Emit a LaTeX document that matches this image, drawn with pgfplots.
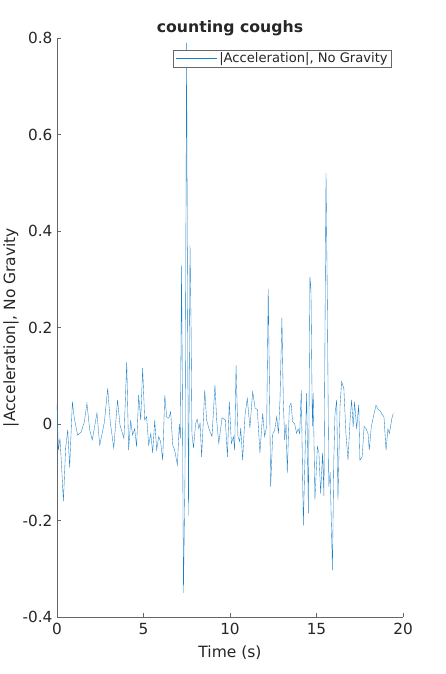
\documentclass[border=0pt]{standalone}
\usepackage{fontspec}
\setmainfont{DejaVu Sans}
\usepackage{pgfplots}
\pgfplotsset{compat=1.18}
\definecolor{mblue}{rgb}{0.1,0.5,0.78}
\definecolor{axgray}{rgb}{0.4,0.4,0.4}
\definecolor{txt}{rgb}{0.15,0.15,0.15}
\begin{document}
\begin{tikzpicture}
\path[use as bounding box] (-57pt,-57pt) rectangle (389pt,617pt);
\begin{axis}[
  at={(0,0)}, anchor=south west,
  width=346pt, height=579pt, scale only axis,
  xmin=0, xmax=20, ymin=-0.4, ymax=0.8,
  axis x line*=bottom, axis y line*=left,
  axis line style={-, axgray, line width=0.6pt},
  tick style={axgray, line width=0.6pt},
  major tick length=4pt,
  tick align=inside,
  xtick={0,5,10,15,20},
  ytick={-0.4,-0.2,0,0.2,0.4,0.6,0.8},
  yticklabels={-0.4,-0.2,0,0.2,0.4,0.6,0.8},
  xticklabels={0,5,10,15,20},
  ticklabel style={font=\fontsize{15.3}{17}\selectfont, text=txt},
  yticklabel style={xshift=-1pt},
  xticklabel style={yshift=-3pt},
  xlabel={Time (s)},
  ylabel={|Acceleration|, No Gravity},
  label style={font=\fontsize{15.5}{17}\selectfont, text=txt},
  xlabel style={at={(axis description cs:0.5,0)}, anchor=center, yshift=-36pt},
  ylabel style={at={(axis description cs:-0.133,0.5)}, anchor=center},
  title={counting coughs},
  title style={font=\bfseries\fontsize{15.7}{17}\selectfont, text=txt, at={(axis description cs:0.5,1)}, anchor=center, yshift=4pt},
  legend style={at={(axis description cs:0.968,0.979)}, anchor=north east, draw=axgray, line width=0.5pt, font=\fontsize{13.1}{14}\selectfont, text=txt, inner xsep=2pt, inner ysep=0.5pt},
  legend cell align=left,
  legend image code/.code={\draw[#1] (0cm,0cm) -- (1.45cm,0cm);},
]
\addplot[mblue, line width=0.35pt] coordinates {
(0,0.04) (0.08,-0.054) (0.17,-0.03) (0.27,-0.09) (0.37,-0.16) (0.5,-0.05) (0.62,-0.012) (0.73,-0.09)
(0.89,0.046) (1.0,0.012) (1.19,-0.023) (1.39,-0.017) (1.58,0.004) (1.73,0.043) (1.89,-0.012) (2.04,-0.033)
(2.31,0.023) (2.47,-0.044) (2.74,0.004) (2.93,0.074) (3.08,0.004) (3.28,-0.05) (3.5,0.05) (3.64,-0.002)
(3.87,-0.03) (4.03,0.129) (4.14,-0.054) (4.26,0.008) (4.37,-0.023) (4.49,-0.01) (4.6,-0.047) (4.72,0.06)
(4.84,0.008) (4.95,0.116) (5.07,0.008) (5.18,0.015) (5.3,-0.044) (5.42,-0.02) (5.53,-0.06) (5.65,0.008)
(5.76,-0.054) (5.88,-0.026) (5.99,-0.037) (6.11,-0.075) (6.23,0.06) (6.34,0.015) (6.46,0.012) (6.57,0.025)
(6.69,-0.044) (6.8,-0.054) (6.96,-0.085) (7.07,0.0) (7.13,-0.03) (7.2,0.33) (7.25,0.05) (7.31,-0.35)
(7.4,-0.1) (7.49,0.79) (7.54,0.3) (7.6,-0.19) (7.69,0.37) (7.75,0.2) (7.8,-0.02) (7.89,-0.05)
(8.01,0.0) (8.1,0.01) (8.2,-0.01) (8.27,0.002) (8.36,-0.068) (8.54,0.07) (8.65,0.008) (8.8,-0.012)
(8.96,-0.026) (9.13,0.081) (9.23,0.008) (9.35,-0.04) (9.54,0.013) (9.73,0.008) (9.85,-0.068) (9.96,0.046)
(10.08,-0.04) (10.2,-0.026) (10.27,-0.054) (10.35,0.122) (10.46,-0.026) (10.56,-0.036) (10.62,-0.008) (10.73,-0.075)
(10.87,0.019) (11.0,0.053) (11.15,-0.008) (11.31,0.067) (11.45,0.033) (11.58,0.03) (11.73,-0.06) (11.89,0.022)
(12.0,-0.026) (12.12,-0.005) (12.21,0.28) (12.3,0.022) (12.35,-0.13) (12.47,-0.02) (12.58,-0.013) (12.7,0.015)
(12.8,-0.02) (12.89,0.05) (13.0,0.22) (13.08,0.05) (13.16,-0.033) (13.24,0.0) (13.31,-0.102) (13.43,0.036)
(13.53,0.043) (13.62,0.005) (13.74,0.0) (13.85,-0.019) (13.94,-0.01) (14.03,-0.02) (14.12,0.07) (14.24,-0.21)
(14.33,-0.075) (14.43,0.064) (14.53,-0.185) (14.62,0.305) (14.68,0.28) (14.76,-0.005) (14.81,0.064) (14.91,-0.157)
(15.05,-0.047) (15.14,-0.06) (15.24,-0.144) (15.35,-0.06) (15.43,-0.15) (15.55,0.52) (15.63,0.243) (15.71,-0.13)
(15.79,-0.1) (15.92,-0.303) (16.0,-0.075) (16.07,0.022) (16.17,0.05) (16.24,-0.157) (16.36,0.036) (16.45,0.088)
(16.58,0.074) (16.7,-0.019) (16.82,-0.075) (16.94,0.008) (17.03,0.05) (17.12,-0.006) (17.2,0.046) (17.32,-0.01)
(17.44,0.04) (17.51,-0.075) (17.64,-0.068) (17.75,-0.005) (17.87,-0.01) (17.98,-0.02) (18.05,-0.054) (18.17,-0.005)
(18.29,0.015) (18.44,0.039) (18.56,0.03) (18.67,0.028) (18.79,0.02) (18.9,0.015) (19.02,-0.054) (19.13,-0.01)
(19.21,-0.02) (19.36,0.012) (19.44,0.022)
};
\addlegendentry{|Acceleration|, No Gravity}
\end{axis}
\end{tikzpicture}
\end{document}
